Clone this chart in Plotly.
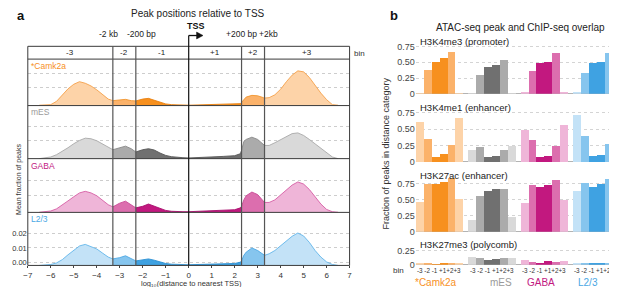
import plotly.graph_objects as go

W, H = 617, 287

# ---------------- data: panel a (density of log10 distance to nearest TSS) ----------------
X_LOG = [-6.5, -6.25, -6, -5.75, -5.5, -5.25, -5, -4.75, -4.5, -4.25, -4, -3.75, -3.5, -3.3,
         -3, -2.75, -2.5, -2.3, -2, -1.75, -1.5, -1.25, -1, -0.75, -0.5, -0.25, 0,
         0.5, 1, 1.5, 2, 2.25, 2.3, 2.4, 2.5, 2.75, 3, 3.25, 3.3, 3.5, 3.75, 4, 4.25,
         4.5, 4.75, 5, 5.25, 5.5, 5.75, 6, 6.25, 6.5]
CAMK2A_DENS = [-0.0025, -0.0025, -0.0021, 0.0002, 0.0048, 0.0090, 0.0122, 0.0140, 0.0129, 0.0110,
               0.0083, 0.0048, 0.0018, 0.0007, 0.0014, 0.0016, 0.0007, 0.0005, 0.0018, 0.0023,
               0.0009, -0.0007, -0.0016, -0.0021, -0.0023, -0.0025, -0.0025, -0.0023, -0.0021,
               -0.0021, -0.0018, -0.0014, -0.0005, 0.0018, 0.0032, 0.0044, 0.0041, 0.0028, 0.0025,
               0.0028, 0.0048, 0.0087, 0.0140, 0.0186, 0.0216, 0.0209, 0.0170, 0.0113, 0.0060,
               0.0014, -0.0021, -0.0025]
MES_DENS = [-0.0028, -0.0023, -0.0016, 0.0000, 0.0023, 0.0049, 0.0077, 0.0100, 0.0116, 0.0112,
            0.0098, 0.0077, 0.0053, 0.0035, 0.0047, 0.0060, 0.0042, 0.0019, 0.0035, 0.0042,
            0.0033, 0.0012, -0.0005, -0.0014, -0.0019, -0.0021, -0.0023, -0.0021, -0.0016,
            -0.0012, -0.0007, 0.0007, 0.0030, 0.0093, 0.0107, 0.0123, 0.0107, 0.0070, 0.0065,
            0.0065, 0.0084, 0.0105, 0.0123, 0.0148, 0.0153, 0.0135, 0.0107, 0.0077, 0.0042,
            0.0012, -0.0016, -0.0028]
GABA_DENS = [-0.0020, -0.0016, -0.0011, 0.0004, 0.0029, 0.0060, 0.0089, 0.0116, 0.0127, 0.0116,
             0.0096, 0.0062, 0.0033, 0.0018, 0.0044, 0.0058, 0.0033, 0.0011, 0.0022, 0.0038,
             0.0022, 0.0004, -0.0007, -0.0013, -0.0016, -0.0016, -0.0016, -0.0013, -0.0011,
             -0.0007, -0.0002, 0.0011, 0.0022, 0.0067, 0.0096, 0.0122, 0.0104, 0.0056, 0.0049,
             0.0049, 0.0067, 0.0100, 0.0138, 0.0171, 0.0193, 0.0178, 0.0140, 0.0089, 0.0038,
             0.0000, -0.0016, -0.0020]
L23_DENS = [-0.0023, -0.0020, -0.0016, -0.0005, 0.0018, 0.0052, 0.0086, 0.0114, 0.0125, 0.0111,
            0.0093, 0.0064, 0.0036, 0.0023, 0.0032, 0.0045, 0.0027, 0.0009, 0.0014, 0.0023,
            0.0014, 0.0000, -0.0009, -0.0014, -0.0016, -0.0016, -0.0018, -0.0016, -0.0014,
            -0.0011, -0.0009, 0.0000, 0.0009, 0.0048, 0.0070, 0.0100, 0.0082, 0.0055, 0.0048,
            0.0059, 0.0082, 0.0116, 0.0145, 0.0182, 0.0205, 0.0184, 0.0139, 0.0082, 0.0036,
            0.0002, -0.0016, -0.0023]
BIN_EDGES = [-3.3, -2.3, 0.0, 2.3, 3.3]
BIN_LABELS = ["-3", "-2", "-1", "+1", "+2", "+3"]
EDGE_LABELS = ["-2 kb", "-200 bp", "+200 bp", "+2kb"]
X_TICKS_A = list(range(-7, 8))
Y_TICKS_A = [0.0, 0.01, 0.02]
CELL_TYPES = ["*Camk2a", "mES", "GABA", "L2/3"]

# ---------------- data: panel b (fraction of peaks overlapping ChIP-seq) ----------------
MARKS = ["H3K4me3 (promoter)", "H3K4me1 (enhancer)", "H3K27ac (enhancer)", "H3K27me3 (polycomb)"]
H3K4ME3_CAMK2A = [0.015, 0.39, 0.515, 0.57, 0.67, 0.02]
H3K4ME3_MES = [0.02, 0.30, 0.44, 0.47, 0.54, 0.02]
H3K4ME3_GABA = [0.03, 0.375, 0.49, 0.515, 0.66, 0.04]
H3K4ME3_L23 = [0.03, 0.34, 0.50, 0.515, 0.66, 0.03]
H3K4ME1_CAMK2A = [0.60, 0.35, 0.07, 0.11, 0.25, 0.67]
H3K4ME1_MES = [0.18, 0.225, 0.065, 0.085, 0.185, 0.24]
H3K4ME1_GABA = [0.48, 0.325, 0.07, 0.09, 0.235, 0.555]
H3K4ME1_L23 = [0.71, 0.39, 0.08, 0.10, 0.275, 0.765]
H3K27AC_CAMK2A = [0.46, 0.74, 0.74, 0.77, 0.83, 0.515]
H3K27AC_MES = [0.185, 0.56, 0.64, 0.66, 0.66, 0.23]
H3K27AC_GABA = [0.445, 0.72, 0.69, 0.73, 0.80, 0.49]
H3K27AC_L23 = [0.63, 0.75, 0.70, 0.74, 0.82, 0.68]
H3K27ME3_CAMK2A = [0.02, 0.02, 0.015, 0.035, 0.025, 0.02]
H3K27ME3_MES = [0.145, 0.12, 0.09, 0.11, 0.125, 0.115]
H3K27ME3_GABA = [0.085, 0.05, 0.04, 0.065, 0.05, 0.065]
H3K27ME3_L23 = [0.02, 0.025, 0.03, 0.04, 0.03, 0.02]
Y_TICKS_B = [0, 0.25, 0.5, 0.75]
Y_TICKTEXT_B = ["0", "0.25", "0.50", "0.75"]

# ---------------- styling ----------------
FONT = "Liberation Sans, Arial, sans-serif"
FILLS = [["#fdd3a8", "#fbb26a", "#f7901e"],
         ["#d9d9d9", "#ababab", "#707070"],
         ["#efb5d8", "#dc6eae", "#c2187f"],
         ["#c3e2f7", "#86c5ee", "#3fa2e2"]]
LINES = [["#f5a04a", "#f0952f", "#e98010"],
         ["#a8a8a8", "#888888", "#555555"],
         ["#d65ea5", "#c94a95", "#a80f6d"],
         ["#62b6ea", "#4aa7e4", "#2a8fd3"]]
LABEL_COLORS = ["#f7901e", "#9a9a9a", "#c2187f", "#4aa7e4"]
SHADE_OF_BIN = [0, 1, 2, 2, 1, 0]


def px(x):
    return x / W


def py(y):
    return 1 - y / H


fig = go.Figure()

# ---------------- panel a ----------------
PA_X = (15, 341)
SCALE_A = 1450.0  # px per density unit
PA_PANELS = [(52, 99.3, 95.3), (99.3, 153.3, 149.3), (153.3, 208, 205.0), (208, 262, 258.7)]
DENS = [CAMK2A_DENS, MES_DENS, GABA_DENS, L23_DENS]

edges = [-1e9] + BIN_EDGES + [1e9]
for s, dens in enumerate(DENS):
    top, bot, zero = PA_PANELS[s]
    ymin = -(bot - zero) / SCALE_A
    yname = "y" if s == 0 else f"y{s + 1}"
    for b in range(6):
        lo, hi = edges[b], edges[b + 1]
        sx = [x for x in X_LOG if lo <= x <= hi]
        sy = [max(v, ymin) for x, v in zip(X_LOG, dens) if lo <= x <= hi]
        if len(sx) < 2:
            continue
        shade = SHADE_OF_BIN[b]
        fig.add_trace(go.Scatter(x=sx + sx[::-1], y=sy + [ymin] * len(sx), fill="toself",
                                 fillcolor=FILLS[s][shade], line=dict(width=0), mode="lines",
                                 xaxis="x", yaxis=yname, hoverinfo="skip", showlegend=False))
        fig.add_trace(go.Scatter(x=sx, y=sy, mode="lines",
                                 line=dict(color=LINES[s][shade], width=0.9),
                                 xaxis="x", yaxis=yname, hoverinfo="skip", showlegend=False))

layout = dict(
    width=W, height=H, margin=dict(l=0, r=0, t=0, b=0),
    paper_bgcolor="white", plot_bgcolor="white", showlegend=False,
    font=dict(family=FONT, size=8, color="#333333"),
)
layout["xaxis"] = dict(domain=[px(PA_X[0]), px(PA_X[1])], range=[-7, 7], anchor="y4",
                       tickvals=X_TICKS_A, ticks="outside", ticklen=2, tickcolor="#444444",
                       tickfont=dict(size=8, color="#333333"), showgrid=False, zeroline=False,
                       showline=False)
for s in range(4):
    top, bot, zero = PA_PANELS[s]
    key = "yaxis" if s == 0 else f"yaxis{s + 1}"
    ax = dict(domain=[py(bot), py(top)], range=[-(bot - zero) / SCALE_A, (zero - top) / SCALE_A],
              anchor="x", showgrid=True, gridcolor="#cdcdcd", griddash="dot", gridwidth=0.8,
              zeroline=False, showline=False, ticks="")
    if s == 3:
        ax.update(tickvals=Y_TICKS_A, ticktext=[f"{v:.2f}" for v in Y_TICKS_A],
                  tickfont=dict(size=7.5, color="#333333"))
    else:
        ax.update(tickvals=Y_TICKS_A[1:], showticklabels=False)
    layout[key] = ax

# ---------------- panel b ----------------
PB_X = (408, 615)
GROUP_STEP = 6.625
PB_PANELS = [(28, 87.3, 64.0), (97, 156.7, 66.7), (166, 227.7, 65.4), (236, 261.3, 58.4)]
BARS = [
    [H3K4ME3_CAMK2A, H3K4ME3_MES, H3K4ME3_GABA, H3K4ME3_L23],
    [H3K4ME1_CAMK2A, H3K4ME1_MES, H3K4ME1_GABA, H3K4ME1_L23],
    [H3K27AC_CAMK2A, H3K27AC_MES, H3K27AC_GABA, H3K27AC_L23],
    [H3K27ME3_CAMK2A, H3K27ME3_MES, H3K27ME3_GABA, H3K27ME3_L23],
]
x2_range = [-0.5, 3 * GROUP_STEP + 5.5]

for m in range(4):
    yname = f"y{m + 5}"
    for g in range(4):
        fig.add_trace(go.Bar(x=[g * GROUP_STEP + i for i in range(6)], y=BARS[m][g], width=1.0,
                             marker=dict(color=[FILLS[g][SHADE_OF_BIN[i]] for i in range(6)],
                                         line=dict(width=0)),
                             xaxis="x2", yaxis=yname, hoverinfo="skip", showlegend=False))
    top, bot, ppu = PB_PANELS[m]
    tv = [t for t in Y_TICKS_B if t <= (bot - top) / ppu]
    layout[f"yaxis{m + 5}"] = dict(
        domain=[py(bot), py(top)], range=[0, (bot - top) / ppu], anchor="x2",
        tickvals=tv, ticktext=[Y_TICKTEXT_B[Y_TICKS_B.index(t)] for t in tv],
        tickfont=dict(size=9, color="#444444"), ticks="", showgrid=True, gridcolor="#d4d4d4",
        griddash="dot", gridwidth=0.8, zeroline=False, showline=False)

layout["xaxis2"] = dict(domain=[px(PB_X[0]), px(PB_X[1])], range=x2_range, anchor="y8",
                        showticklabels=False, ticks="", showgrid=False, zeroline=False,
                        showline=False)
layout["bargap"] = 0

fig.update_layout(**layout)

shapes = []
LINE_DARK = "#3a3a3a"
shapes.append(dict(type="rect", xref="paper", yref="paper", x0=px(PA_X[0]), x1=px(PA_X[1]),
                   y0=py(262), y1=py(39), line=dict(color=LINE_DARK, width=1)))
for yy in [52, 99.3, 153.3, 208]:
    shapes.append(dict(type="line", xref="paper", yref="paper", x0=px(PA_X[0]), x1=px(PA_X[1]),
                       y0=py(yy), y1=py(yy), line=dict(color=LINE_DARK, width=1)))
for e in BIN_EDGES:
    shapes.append(dict(type="line", xref="x", yref="paper", x0=e, x1=e,
                       y0=py(262), y1=py(28 if e == 0 else 39),
                       line=dict(color="#111111" if e == 0 else "#555555", width=1.2)))
# TSS arrow (horizontal stem + head)
tss_px = PA_X[0] + (0 - (-7)) / 14 * (PA_X[1] - PA_X[0])
shapes.append(dict(type="line", xref="paper", yref="paper", x0=px(tss_px), x1=px(tss_px + 11),
                   y0=py(28), y1=py(28), line=dict(color="#111111", width=1.3)))
shapes.append(dict(type="path", xref="paper", yref="paper",
                   path=f"M {px(tss_px + 8)} {py(24.5)} L {px(tss_px + 14.5)} {py(28)} "
                        f"L {px(tss_px + 8)} {py(31.5)} Z",
                   fillcolor="#111111", line=dict(color="#111111", width=0.5)))
# panel b baselines
for m in range(4):
    shapes.append(dict(type="line", xref="x2", yref=f"y{m + 5}", x0=x2_range[0], x1=x2_range[1],
                       y0=0, y1=0, layer="below", line=dict(color="#9a9a9a", width=1.6)))
fig.update_layout(shapes=shapes)

ann = []


def text(x, y, t, size=8, color="#333333", xanchor="center", bold=False, angle=0, xref="paper"):
    ann.append(dict(x=x if xref != "paper" else px(x), y=py(y), xref=xref, yref="paper",
                    text=f"<b>{t}</b>" if bold else t, showarrow=False, borderpad=0,
                    font=dict(size=size, color=color, family=FONT), xanchor=xanchor,
                    yanchor="middle", textangle=angle))


text(3, 8, "a", size=13, color="#111111", xanchor="left", bold=True)
text(381, 8, "b", size=13, color="#111111", xanchor="left", bold=True)
text(187, 6, "Peak positions relative to TSS", size=10, color="#222222")
text(185, 18, "TSS", size=9, color="#111111", bold=True)
for xx, lab in zip([97, 130, 231.5, 259], EDGE_LABELS):
    text(xx, 26, lab, size=8.5, color="#222222")
bin_bounds = [-7] + BIN_EDGES + [7]
for b in range(6):
    text((bin_bounds[b] + bin_bounds[b + 1]) / 2, 45.7, BIN_LABELS[b], size=8, color="#222222",
         xref="x")
text(344, 46, "bin", size=8, color="#333333", xanchor="left")
for s, yy in enumerate([59, 105.7, 160.7, 214.3]):
    text(17, yy, CELL_TYPES[s], size=8.5, color=LABEL_COLORS[s], xanchor="left")
text(6, 174, "Mean fraction of peaks", size=7, color="#333333", angle=-90)
text(181, 280, "log₁₀(distance to nearest TSS)", size=7.5, color="#333333")

text(514, 20, "ATAC-seq peak and ChIP-seq overlap", size=10, color="#222222")
for m, yy in enumerate([34, 101.7, 170, 240.7]):
    text(411, yy, MARKS[m], size=9.5, color="#222222", xanchor="left")
text(378, 148, "Fraction of peaks in distance category", size=9, color="#333333", angle=-90)
text(391, 267, "bin", size=8, color="#333333")
bin_row = " ".join(BIN_LABELS[:3]) + " " + "".join(BIN_LABELS[3:])
px_per_unit = (PB_X[1] - PB_X[0]) / (x2_range[1] - x2_range[0])
for g in range(4):
    centre_px = PB_X[0] + (g * GROUP_STEP + 2.5 - x2_range[0]) * px_per_unit
    text(centre_px, 267.5, bin_row, size=6.3, color="#333333")
for g, xx in enumerate([429, 494, 535, 583]):
    text(xx, 279, CELL_TYPES[g], size=10, color=LABEL_COLORS[g])

fig.update_layout(annotations=ann)

fig.write_html("out.html")
